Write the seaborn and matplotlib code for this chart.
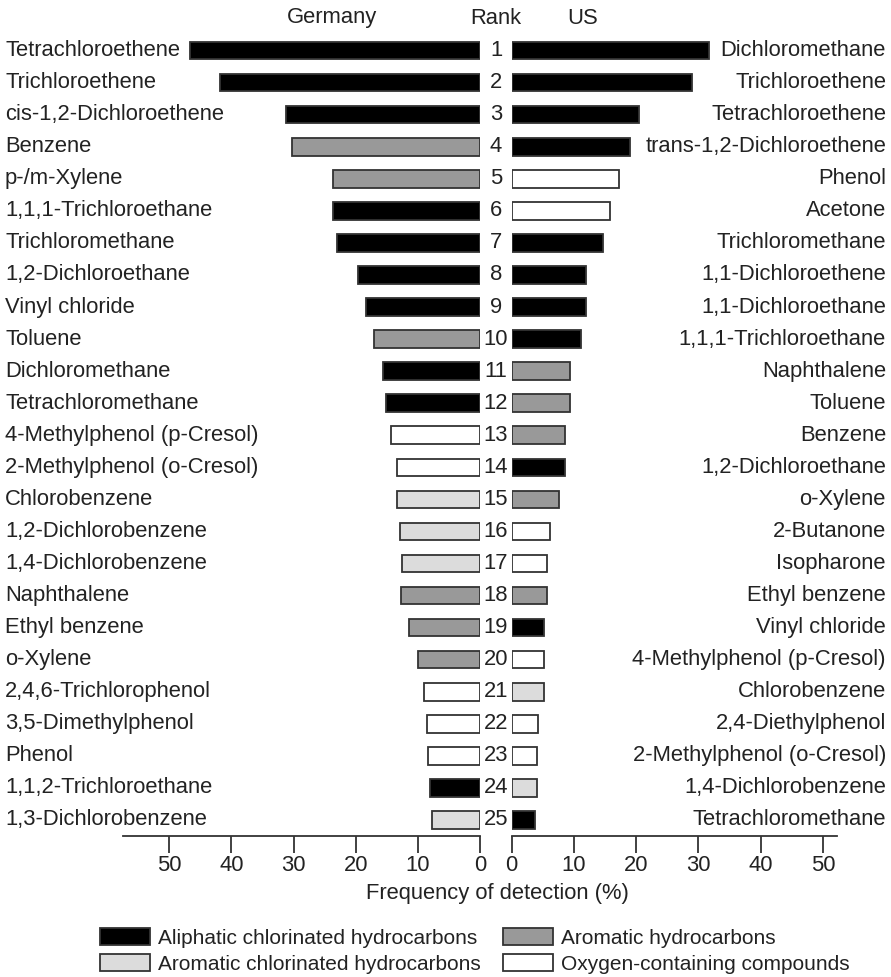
import pandas as pd
import numpy as np
import matplotlib
matplotlib.use('Agg')
import matplotlib.pyplot as plt
import matplotlib.transforms as mtransforms
from matplotlib.patches import Patch
import seaborn as sns

# Data
ranks = list(range(1, 26))

de_names = ['Tetrachloroethene', 'Trichloroethene', 'cis-1,2-Dichloroethene', 'Benzene',
            'p-/m-Xylene', '1,1,1-Trichloroethane', 'Trichloromethane', '1,2-Dichloroethane',
            'Vinyl chloride', 'Toluene', 'Dichloromethane', 'Tetrachloromethane',
            '4-Methylphenol (p-Cresol)', '2-Methylphenol (o-Cresol)', 'Chlorobenzene',
            '1,2-Dichlorobenzene', '1,4-Dichlorobenzene', 'Naphthalene', 'Ethyl benzene',
            'o-Xylene', '2,4,6-Trichlorophenol', '3,5-Dimethylphenol', 'Phenol',
            '1,1,2-Trichloroethane', '1,3-Dichlorobenzene']
de_values = [46.7, 41.9, 31.2, 30.2, 23.7, 23.7, 23.0, 19.7, 18.3, 17.1, 15.6, 15.2,
             14.4, 13.3, 13.4, 12.9, 12.6, 12.7, 11.5, 10.0, 9.0, 8.6, 8.3, 8.1, 7.8]
de_groups = ['A', 'A', 'A', 'H', 'H', 'A', 'A', 'A', 'A', 'H', 'A', 'A',
             'O', 'O', 'C', 'C', 'C', 'H', 'H', 'H', 'O', 'O', 'O', 'A', 'C']

us_names = ['Dichloromethane', 'Trichloroethene', 'Tetrachloroethene', 'trans-1,2-Dichloroethene',
            'Phenol', 'Acetone', 'Trichloromethane', '1,1-Dichloroethene', '1,1-Dichloroethane',
            '1,1,1-Trichloroethane', 'Naphthalene', 'Toluene', 'Benzene', '1,2-Dichloroethane',
            'o-Xylene', '2-Butanone', 'Isopharone', 'Ethyl benzene', 'Vinyl chloride',
            '4-Methylphenol (p-Cresol)', 'Chlorobenzene', '2,4-Diethylphenol',
            '2-Methylphenol (o-Cresol)', '1,4-Dichlorobenzene', 'Tetrachloromethane']
us_values = [31.7, 28.9, 20.5, 19.0, 17.3, 15.8, 14.7, 12.0, 12.0, 11.1, 9.4, 9.4,
             8.6, 8.6, 7.6, 6.2, 5.7, 5.7, 5.2, 5.2, 5.2, 4.3, 4.0, 4.0, 3.7]
us_groups = ['A', 'A', 'A', 'A', 'O', 'O', 'A', 'A', 'A', 'A', 'H', 'H',
             'H', 'A', 'H', 'O', 'O', 'H', 'A', 'O', 'C', 'O', 'O', 'C', 'A']

group_labels = {'A': 'Aliphatic chlorinated hydrocarbons',
                'H': 'Aromatic hydrocarbons',
                'C': 'Aromatic chlorinated hydrocarbons',
                'O': 'Oxygen-containing compounds'}
group_colors = {'A': '#000000', 'H': '#999999', 'C': '#dcdcdc', 'O': '#ffffff'}
edge = '#333333'

df_de = pd.DataFrame({'rank': ranks, 'value': de_values, 'group': de_groups})
df_us = pd.DataFrame({'rank': ranks, 'value': us_values, 'group': us_groups})

sns.set_theme(style='white')
plt.rcParams['font.family'] = ['Liberation Sans', 'DejaVu Sans']
fs = 15.8

W, H = 891, 977
fig = plt.figure(figsize=(W / 100, H / 100), dpi=100)

def fx(px):
    return px / W

bottom = 1 - 836 / H
height = (836 - 18.5) / H
ax_l = fig.add_axes([fx(123.3), bottom, fx(480 - 123.3), height])
ax_r = fig.add_axes([fx(511.7), bottom, fx(836.7 - 511.7), height])

for ax, df in [(ax_l, df_de), (ax_r, df_us)]:
    sns.barplot(data=df, x='value', y='rank', hue='group', palette=group_colors,
                orient='h', dodge=False, width=0.55, order=ranks, legend=False,
                edgecolor=edge, linewidth=1.3, ax=ax)
    ax.set_ylim(24.5, -1.0)
    ax.set_yticks([])
    ax.set_ylabel('')
    ax.set_xlabel('')
    ax.set_xticks(range(0, 51, 10))
    ax.tick_params(axis='x', direction='out', length=12, width=1.3, color=edge,
                   labelsize=fs, pad=2, bottom=True, labelcolor='#222222')
    for s in ['left', 'right', 'top']:
        ax.spines[s].set_visible(False)
    ax.spines['bottom'].set_color(edge)
    ax.spines['bottom'].set_linewidth(1.3)
    ax.set_facecolor('none')

ax_l.set_xlim(57.4, 0)
ax_r.set_xlim(0, 52.2)

# names and ranks
tl = mtransforms.blended_transform_factory(fig.transFigure, ax_l.transData)
for i, (dn, un) in enumerate(zip(de_names, us_names)):
    fig.text(fx(5), i, dn, transform=tl, ha='left', va='center', fontsize=fs, color='#222222')
    fig.text(fx(886), i, un, transform=tl, ha='right', va='center', fontsize=fs, color='#222222')
    fig.text(fx(496), i, str(ranks[i]), transform=tl, ha='center', va='center',
             fontsize=fs, color='#222222')

ytop = 1 - 18 / H
fig.text(fx(332), ytop, 'Germany', ha='center', va='center', fontsize=fs, color='#222222')
fig.text(fx(496), ytop, 'Rank', ha='center', va='center', fontsize=fs, color='#222222')
fig.text(fx(583), ytop, 'US', ha='center', va='center', fontsize=fs, color='#222222')
fig.text(fx(497), 1 - 893 / H, 'Frequency of detection (%)', ha='center', va='center',
         fontsize=fs, color='#222222')

handles = [Patch(facecolor=group_colors[g], edgecolor=edge, linewidth=1.3, label=group_labels[g])
           for g in ['A', 'C', 'H', 'O']]
fig.legend(handles=handles, ncol=2, loc='upper left', bbox_to_anchor=(fx(92), 1 - 920 / H),
           frameon=False, fontsize=15, handlelength=2.4, handleheight=0.85,
           handletextpad=0.35, columnspacing=1.1, labelspacing=0.3, borderaxespad=0,
           labelcolor='#222222')

plt.savefig('out.png', dpi=100)
